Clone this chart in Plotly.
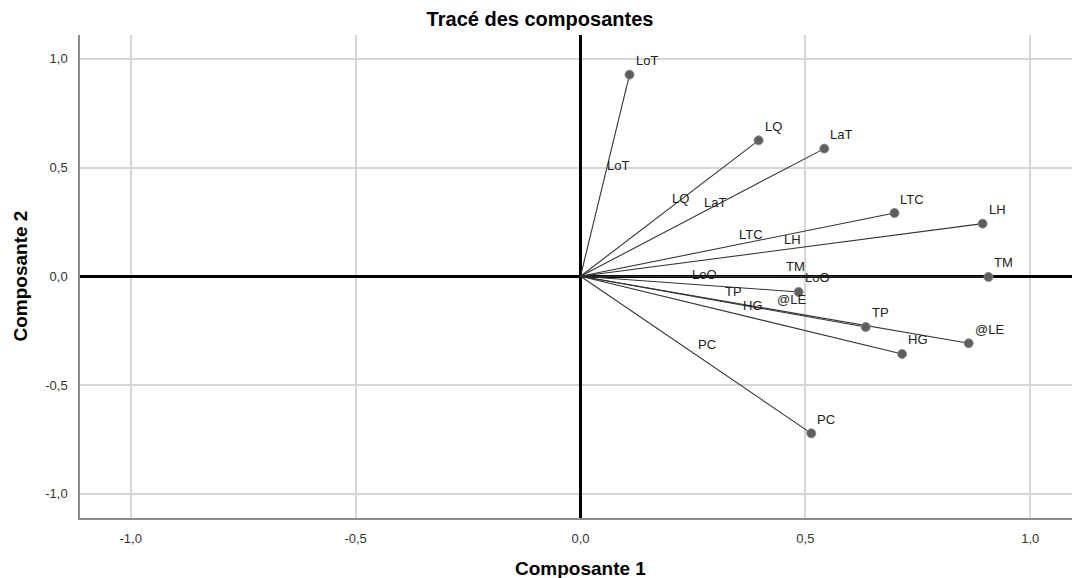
import plotly.graph_objects as go

# Component loadings
variables = ["LoT", "LQ", "LaT", "LTC", "LH", "TM", "LoO", "TP", "@LE", "HG", "PC"]
comp1 = [0.109, 0.396, 0.542, 0.698, 0.894, 0.907, 0.485, 0.634, 0.863, 0.715, 0.513]
comp2 = [0.927, 0.625, 0.587, 0.291, 0.242, -0.003, -0.072, -0.233, -0.308, -0.357, -0.722]
tick_vals = [-1.0, -0.5, 0.0, 0.5, 1.0]
tick_text = ["-1,0", "-0,5", "0,0", "0,5", "1,0"]

FONT = "Liberation Sans, Arial, sans-serif"

fig = go.Figure()

# vectors from origin
lx, ly = [], []
for a, b in zip(comp1, comp2):
    lx += [0, a, None]
    ly += [0, b, None]
fig.add_trace(go.Scatter(x=lx, y=ly, mode="lines",
                         line=dict(color="#333333", width=1.1),
                         hoverinfo="skip", showlegend=False))
fig.add_trace(go.Scatter(x=comp1, y=comp2, mode="markers", text=variables,
                         marker=dict(color="#5e5e5e", size=9,
                                     line=dict(color="#8a8a8a", width=1)),
                         showlegend=False))

annotations = []
for name, a, b in zip(variables, comp1, comp2):
    annotations.append(dict(x=a, y=b, text=name, showarrow=False,
                            xanchor="left", yanchor="middle", xshift=4, yshift=14,
                            font=dict(family=FONT, size=13, color="#222")))
    annotations.append(dict(x=a / 2, y=b / 2, text=name, showarrow=False,
                            xanchor="left", yanchor="middle", xshift=0, yshift=10,
                            font=dict(family=FONT, size=13, color="#222")))

annotations.append(dict(text="<b>Composante 1</b>", xref="paper", yref="paper",
                        x=(580 - 80) / 992, y=-(568 - 518) / 483, showarrow=False,
                        xanchor="center", yanchor="middle",
                        font=dict(family=FONT, size=19, color="#000")))
annotations.append(dict(text="<b>Composante 2</b>", xref="paper", yref="paper",
                        x=(20 - 80) / 992, y=0.5, showarrow=False, textangle=-90,
                        xanchor="center", yanchor="middle",
                        font=dict(family=FONT, size=19, color="#000")))

axis_common = dict(
    tickvals=tick_vals, ticktext=tick_text,
    showgrid=True, gridcolor="#d6d6d6", gridwidth=1.5,
    zeroline=True, zerolinecolor="#000000", zerolinewidth=3,
    showline=True, linecolor="#8c8c8c", linewidth=1.5, mirror=False,
    ticks="", tickfont=dict(family=FONT, size=13, color="#333"),
    automargin=False,
)

fig.update_layout(
    width=1072, height=578,
    margin=dict(l=80, r=0, t=35, b=60),
    paper_bgcolor="white", plot_bgcolor="white",
    showlegend=False,
    title=dict(text="<b>Tracé des composantes</b>", x=540 / 1072, xref="container",
               xanchor="center", y=1 - 19 / 578, yref="container", yanchor="middle",
               font=dict(family=FONT, size=20, color="#000")),
    xaxis=dict(range=[-1.1127, 1.0927], ticklabelstandoff=8, **axis_common),
    yaxis=dict(range=[-1.1113, 1.1094], ticklabelstandoff=8, **axis_common),
    annotations=annotations,
)

fig.write_html("out.html", config={"displayModeBar": False},
               post_script="document.body.style.margin='0';document.body.style.overflow='hidden';")
